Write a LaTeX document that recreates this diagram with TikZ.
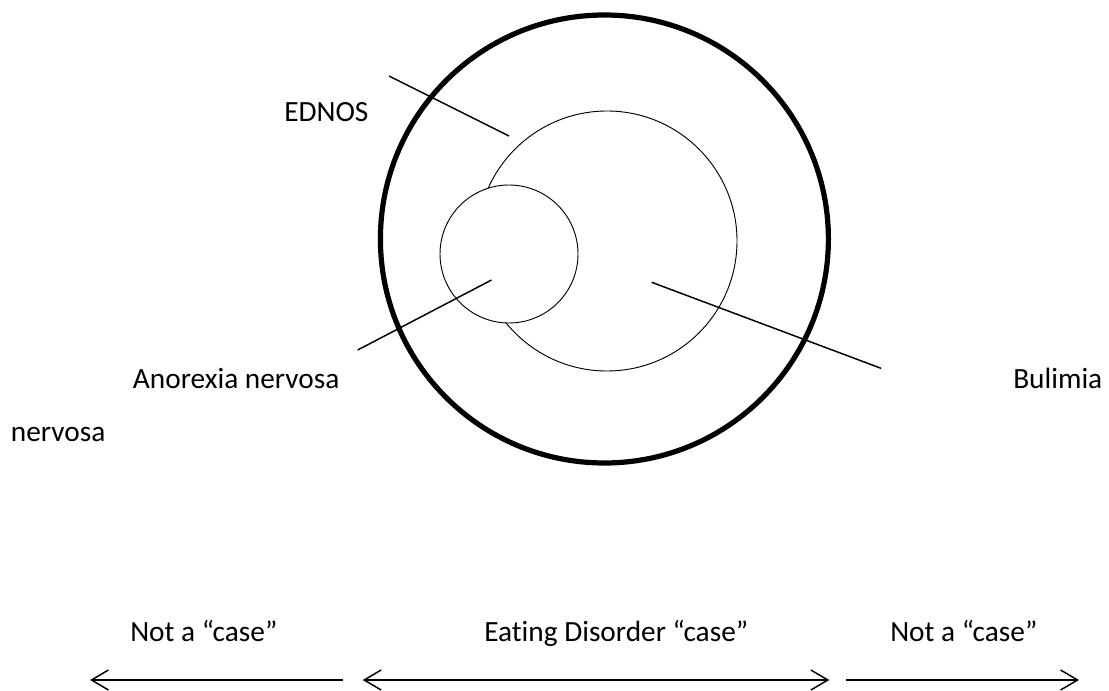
\documentclass[tikz,border=0pt]{standalone}
\usepackage{fontspec}
\setmainfont{Carlito}[Ligatures=NoCommon]
\usetikzlibrary{arrows.meta}
\begin{document}
\begin{tikzpicture}[x=0.75pt,y=-0.75pt,
  lbl/.style={anchor=base west,inner sep=0pt,font=\fontsize{22}{26}\selectfont},
  outerc/.style={draw=black,line width=3.9pt},
  thinc/.style={draw=black,line width=0.7pt,fill=white},
  leader/.style={draw=black,line width=1.1pt},
  span/.style={draw=black,line width=1.1pt}]
\useasboundingbox (0,0) rectangle (1109,691);
% circles
\node[outerc,circle,minimum size=448*0.75pt,inner sep=0pt] (outer) at (604.4,239) {};
\node[thinc,circle,minimum size=260*0.75pt,inner sep=0pt] (mid) at (607,241) {};
\node[thinc,circle,minimum size=138*0.75pt,inner sep=0pt] (small) at (509,254) {};
% leader line end points
\coordinate (e1) at (389,76);
\coordinate (e2) at (509,136);
\coordinate (a1) at (357.7,350);
\coordinate (a2) at (491.5,280);
\coordinate (b1) at (651.7,282.3);
\coordinate (b2) at (881,368.3);
\draw[leader] (e1) -- (e2);
\draw[leader] (a1) -- (a2);
\draw[leader] (b1) -- (b2);
% labels
\node[lbl] (ednos) at (284,121.7) {EDNOS};
\node[lbl] (anor) at (132.7,388.3) {Anorexia nervosa};
\node[lbl] (bul) at (1013,388.3) {Bulimia};
\node[lbl] (nerv) at (10.7,441) {nervosa};
\node[lbl] (nc1) at (130,641.7) {Not a “case”};
\node[lbl] (edc) at (484,641.7) {Eating Disorder “case”};
\node[lbl] (nc2) at (890,641.7) {Not a “case”};
% arrows
\coordinate (l1) at (90,680);
\coordinate (l2) at (343,680);
\coordinate (m1) at (362.7,680);
\coordinate (m2) at (829.3,680);
\coordinate (r1) at (846,680);
\coordinate (r2) at (1079,680);
\draw[span,{Straight Barb[length=12.75pt,width=15pt]}-] (l1) -- (l2);
\draw[span,{Straight Barb[length=12.75pt,width=15pt]}-{Straight Barb[length=12.75pt,width=15pt]}] (m1) -- (m2);
\draw[span,-{Straight Barb[length=12.75pt,width=15pt]}] (r1) -- (r2);
\end{tikzpicture}
\end{document}
